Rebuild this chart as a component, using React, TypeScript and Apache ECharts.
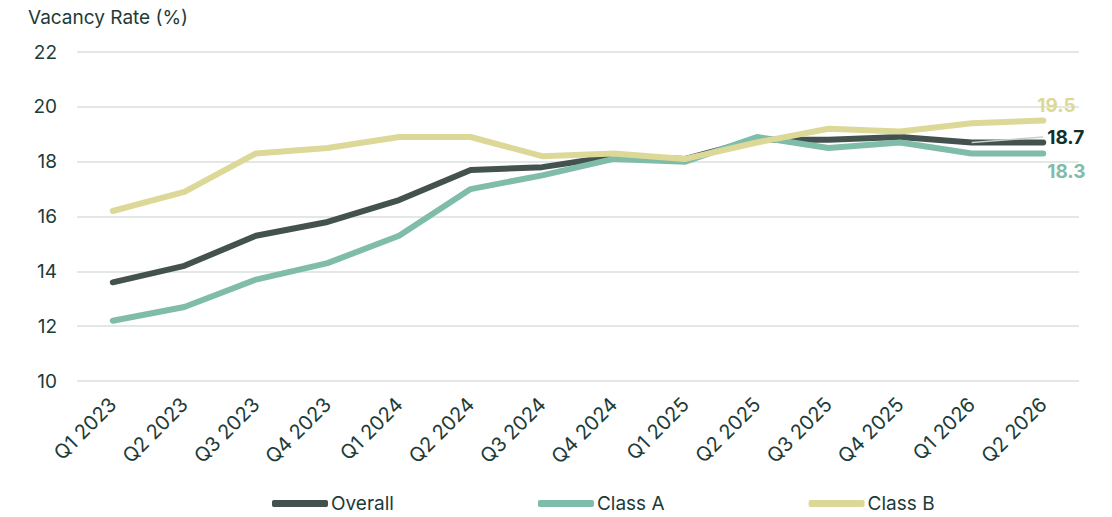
import React, { useEffect, useRef } from "react";
import * as echarts from "echarts";

const categories = [
  "Q1 2023", "Q2 2023", "Q3 2023", "Q4 2023",
  "Q1 2024", "Q2 2024", "Q3 2024", "Q4 2024",
  "Q1 2025", "Q2 2025", "Q3 2025", "Q4 2025",
  "Q1 2026", "Q2 2026",
];
const overall = [13.6, 14.2, 15.3, 15.8, 16.6, 17.7, 17.8, 18.2, 18.1, 18.8, 18.8, 18.9, 18.7, 18.7];
const classA = [12.2, 12.7, 13.7, 14.3, 15.3, 17.0, 17.5, 18.1, 18.0, 18.9, 18.5, 18.7, 18.3, 18.3];
const classB = [16.2, 16.9, 18.3, 18.5, 18.9, 18.9, 18.2, 18.3, 18.1, 18.7, 19.2, 19.1, 19.4, 19.5];
const faint = [null, null, null, null, null, null, null, null, null, null, null, null, 18.7, 18.9];

const TEXT = "#1d3b38";
const FONT = "Inter";

export default function App() {
  const ref = useRef<HTMLDivElement>(null);
  useEffect(() => {
    document.body.style.margin = "0";
    const chart = echarts.init(ref.current!, null, { renderer: "svg" });
    const mkEnd = (color: string, offset: number[]) => ({
      show: true,
      formatter: (p: any) => String(p.value),
      color,
      fontFamily: FONT,
      fontWeight: "bold",
      fontSize: 19,
      offset,
      distance: 4,
    });
    chart.setOption({
      animation: false,
      textStyle: { fontFamily: FONT },
      title: {
        text: "Vacancy Rate (%)",
        left: 23,
        top: 3,
        textStyle: { color: TEXT, fontSize: 19, fontWeight: "normal", fontFamily: FONT },
      },
      grid: { left: 77, right: 33, top: 52, bottom: 136, containLabel: false },
      legend: {
        data: ["Overall", "Class A", "Class B"],
        top: 494,
        left: 272,
        padding: 0,
        itemGap: 144,
        itemWidth: 56,
        itemHeight: 7,
        icon: "roundRect",
        textStyle: { color: TEXT, fontSize: 19, fontFamily: FONT, padding: [0, 0, 0, -2] },
      },
      xAxis: {
        type: "category",
        data: categories,
        boundaryGap: true,
        axisLine: { show: false },
        axisTick: { show: false },
        axisLabel: { rotate: 45, color: TEXT, fontSize: 20, margin: 20, fontFamily: FONT },
      },
      yAxis: {
        type: "value",
        min: 10,
        max: 22,
        interval: 2,
        axisLine: { show: false },
        axisTick: { show: false },
        axisLabel: { color: TEXT, fontSize: 19, margin: 20, fontFamily: FONT },
        splitLine: { lineStyle: { color: "#e3e8e6", width: 2 } },
      },
      series: [
        {
          name: "Overall",
          type: "line",
          data: overall,
          symbol: "none",
          z: 3,
          lineStyle: { color: "#44524f", width: 6, cap: "round", join: "round" },
          itemStyle: { color: "#44524f" },
          endLabel: mkEnd("#0f302c", [0, -5]),
        },
        {
          name: "faint",
          type: "line",
          data: faint,
          symbol: "none",
          z: 4,
          silent: true,
          lineStyle: { color: "#c7cfcc", width: 1.5 },
        },
        {
          name: "Class A",
          type: "line",
          data: classA,
          symbol: "none",
          z: 5,
          lineStyle: { color: "#80bcaa", width: 6, cap: "round", join: "round" },
          itemStyle: { color: "#80bcaa" },
          endLabel: mkEnd("#80bcaa", [0, 18]),
        },
        {
          name: "Class B",
          type: "line",
          data: classB,
          symbol: "none",
          z: 6,
          lineStyle: { color: "#dcd998", width: 6, cap: "round", join: "round" },
          itemStyle: { color: "#dcd998" },
          endLabel: mkEnd("#dcd998", [-10, -15]),
        },
      ],
    });
    return () => chart.dispose();
  }, []);
  return <div ref={ref} style={{ width: 1112, height: 517 }} />;
}
